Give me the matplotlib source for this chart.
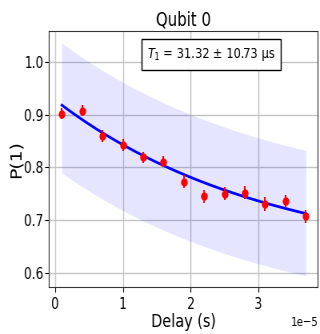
import numpy as np
import matplotlib
matplotlib.use("Agg")
import matplotlib.pyplot as plt

# Data (delay in seconds)
delays = np.array([0.1, 0.4, 0.7, 1.0, 1.3, 1.6, 1.9, 2.2, 2.5, 2.8, 3.1, 3.4, 3.7]) * 1e-5
p1 = np.array([0.902, 0.908, 0.860, 0.843, 0.819, 0.811, 0.773, 0.745, 0.750, 0.752, 0.730, 0.736, 0.707])
p1_err = np.array([0.011, 0.010, 0.011, 0.011, 0.011, 0.011, 0.012, 0.013, 0.012, 0.012, 0.013, 0.012, 0.012])

# Fit parameters  A*exp(-t/T1)+B
T1 = 31.32e-6
T1_err = 10.73e-6
fit_A, fit_B = 0.311, 0.617
upper_A, upper_B = 0.308, 0.738
lower_A, lower_B = 0.295, 0.504

t = np.linspace(delays[0], delays[-1], 200)
fit = fit_A * np.exp(-t / T1) + fit_B
upper = upper_A * np.exp(-t / T1) + upper_B
lower = lower_A * np.exp(-t / T1) + lower_B

# Drawn at 400 px wide, then squeezed to 320 px like the reference
W, H = 400, 334
fig = plt.figure(figsize=(W / 100, H / 100), dpi=100)
ax = fig.add_axes([61.25 / W, 1 - 287 / H, 336.25 / W, 256 / H])

ax.fill_between(t, lower, upper, color='blue', alpha=0.1, lw=0)
ax.plot(t, fit, color='blue', lw=2)
ax.errorbar(delays, p1, yerr=p1_err, fmt='o', color='red', ms=5, elinewidth=1.5, capsize=0)

ax.set_xlim(-0.09e-5, 3.88e-5)
ax.set_ylim(0.573, 1.059)
ax.set_xticks([0, 1e-5, 2e-5, 3e-5])
ax.set_yticks([0.6, 0.7, 0.8, 0.9, 1.0])
ax.grid(True, color='#c4c4c4', lw=1)
ax.set_axisbelow(True)
for s in ax.spines.values():
    s.set_color('#333333')

ax.set_title('Qubit 0', fontsize=13.5, pad=4)
ax.set_xlabel('Delay (s)', fontsize=13, labelpad=1)
ax.set_ylabel('P(1)', fontsize=13.5, labelpad=0)
ax.tick_params(labelsize=11)
ax.tick_params(axis='x', length=3.5, pad=3.5)
ax.tick_params(axis='y', length=3.5, pad=1.5)
ax.xaxis.get_offset_text().set_fontsize(9)

ax.text(0.603, 0.908, r'$T_1$ = %.2f ± %.2f µs' % (T1 * 1e6, T1_err * 1e6),
        transform=ax.transAxes, ha='center', va='center', fontsize=10.3,
        bbox=dict(boxstyle='square,pad=0.5', facecolor='white', edgecolor='black'))

fig.canvas.draw()
img = np.asarray(fig.canvas.buffer_rgba()).astype(float) / 255.0
# box-filter squeeze of columns: 400 -> 320 (5 -> 4)
up = np.repeat(img, 4, axis=1)
small = up.reshape(H, 320, 5, 4).mean(axis=2)
plt.imsave('out.png', np.clip(small, 0, 1))
